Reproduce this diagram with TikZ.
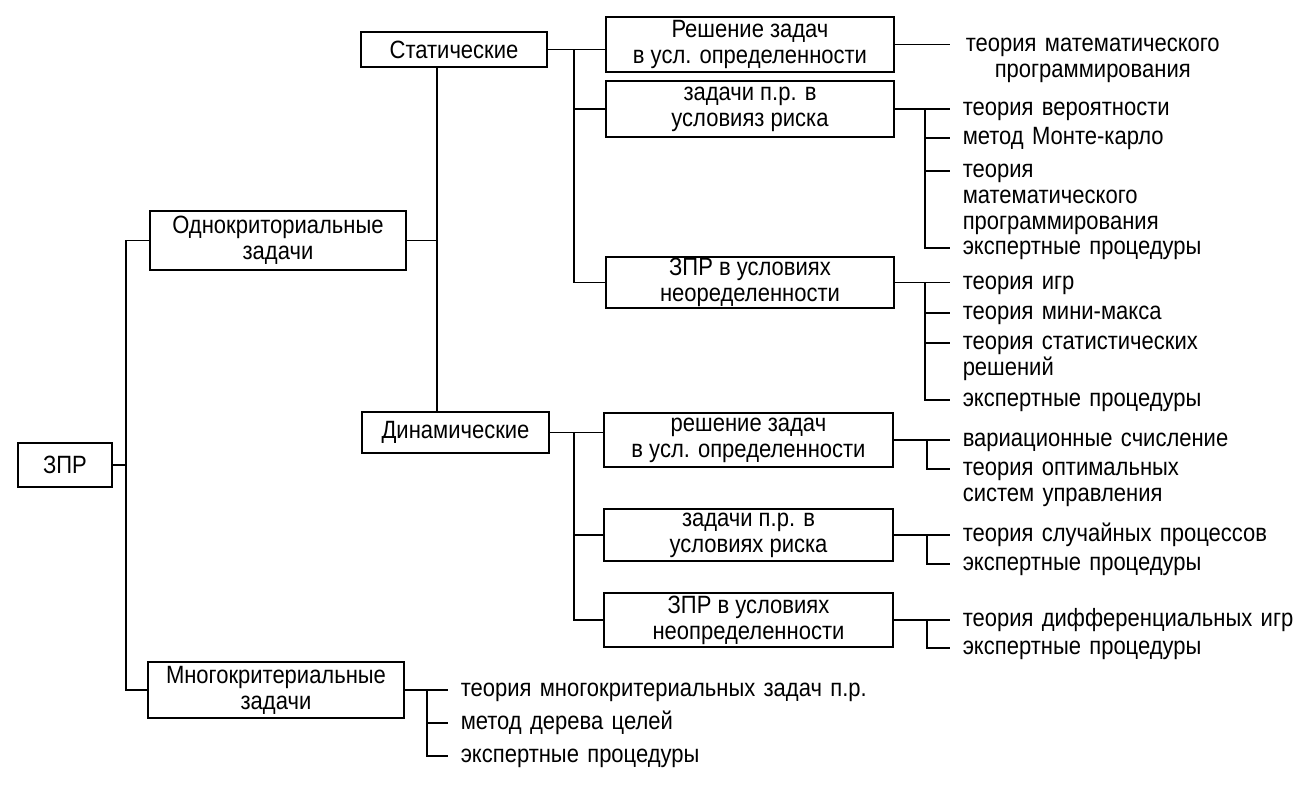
\documentclass[tikz,border=0pt]{standalone}
\usepackage{fontspec}
\setmainfont[FakeStretch=0.88]{Liberation Sans}
\begin{document}
\fontsize{25}{26}\selectfont
\begin{tikzpicture}[x=1pt,y=-1pt,line width=1.5pt,
	box/.style={draw,inner sep=0pt,align=center},
	item/.style={anchor=mid west,inner xsep=12pt,inner ysep=0pt,text width=420pt,align=left}]
	\useasboundingbox (0,0) rectangle (1302,792);
	%блоки
	\node[box,minimum width=94,minimum height=44] (zpr) at (65,465) {ЗПР};
	\node[box,minimum width=256,minimum height=59] (odno) at (278,240.5) {Однокриториальные\\задачи};
	\node[box,minimum width=256,minimum height=56] (mnogo) at (276,690) {Многокритериальные\\задачи};
	\node[box,minimum width=186,minimum height=35] (stat) at (454,49.5) {Статические};
	\node[box,minimum width=187,minimum height=41] (din) at (455.5,432.5) {Динамические};
	\node[box,minimum width=288,minimum height=55] (s1) at (750,44.5) {Решение задач\\в усл. определенности};
	\node[box,minimum width=288,minimum height=56] (s2) at (750,109) {задачи п.р. в\\условияз риска};
	\node[box,minimum width=288,minimum height=51] (s3) at (750,282.5) {ЗПР в условиях\\неоределенности};
	\node[box,minimum width=289,minimum height=54] (d1) at (748.5,440) {решение задач\\в усл. определенности};
	\node[box,minimum width=289,minimum height=52] (d2) at (748.5,535) {задачи п.р. в\\условиях риска};
	\node[box,minimum width=289,minimum height=54] (d3) at (748.5,620) {ЗПР в условиях\\неопределенности};
	%методы
	\node[item,text width=260pt,align=center] (s1a) at (950,44.5) {теория математического\\программирования};
	\node[item] (s2a) at (950,109) {теория вероятности};
	\node[item] (s2b) at (950,138) {метод Монте-карло};
	\node[item] (s2c) at (950,171) {теория\\математического\\программирования};
	\node[item] (s2d) at (950,248) {экспертные процедуры};
	\node[item] (s3a) at (950,282.5) {теория игр};
	\node[item] (s3b) at (950,313) {теория мини-макса};
	\node[item] (s3c) at (950,343) {теория статистических\\решений};
	\node[item] (s3d) at (950,400) {экспертные процедуры};
	\node[item] (d1a) at (950,440) {вариационные счисление};
	\node[item] (d1b) at (950,469) {теория оптимальных\\систем управления};
	\node[item] (d2a) at (950,535) {теория случайных процессов};
	\node[item] (d2b) at (950,564) {экспертные процедуры};
	\node[item] (d3a) at (950,620) {теория дифференциальных игр};
	\node[item] (d3b) at (950,648) {экспертные процедуры};
	\node[item] (ma) at (448,690) {теория многокритериальных задач п.р.};
	\node[item] (mb) at (448,723) {метод дерева целей};
	\node[item] (mc) at (448,756) {экспертные процедуры};
	\coordinate (t) at (126,465);
	\coordinate (m) at (437,240.5);
	\coordinate (sb) at (574,49.5);
	\coordinate (db) at (574,432.5);
	\coordinate (sx) at (925,0);
	\coordinate (dx) at (927,0);
	\coordinate (mx) at (427,0);
	%связи
	\draw (zpr.east) -- (t);
	\draw (odno.west) -| (t) |- (mnogo.west);
	\draw (odno.east) -- (m);
	\draw (stat.south -| m) -- (din.north -| m);
	\draw (stat.east) -- (sb -| s1.west);
	\draw (sb) |- (s2.west) (sb) |- (s3.west);
	\draw (din.east) -- (db -| d1.west);
	\draw (db) |- (d2.west) (db) |- (d3.west);
	\draw (s1.east) -- (s1a.mid west);
	\draw (s2.east) -- (s2a.mid west);
	\foreach \n in {s2b,s2c,s2d}
	\draw (sx |- s2.east) |- (\n.mid west);
	\draw (s3.east) -- (s3a.mid west);
	\foreach \n in {s3b,s3c,s3d}
	\draw (sx |- s3.east) |- (\n.mid west);
	\draw (d1.east) -- (d1a.mid west);
	\draw (dx |- d1.east) |- (d1b.mid west);
	\draw (d2.east) -- (d2a.mid west);
	\draw (dx |- d2.east) |- (d2b.mid west);
	\draw (d3.east) -- (d3a.mid west);
	\draw (dx |- d3.east) |- (d3b.mid west);
	\draw (mnogo.east) -- (ma.mid west);
	\foreach \n in {mb,mc}
	\draw (mx |- mnogo.east) |- (\n.mid west);
\end{tikzpicture}
\end{document}
